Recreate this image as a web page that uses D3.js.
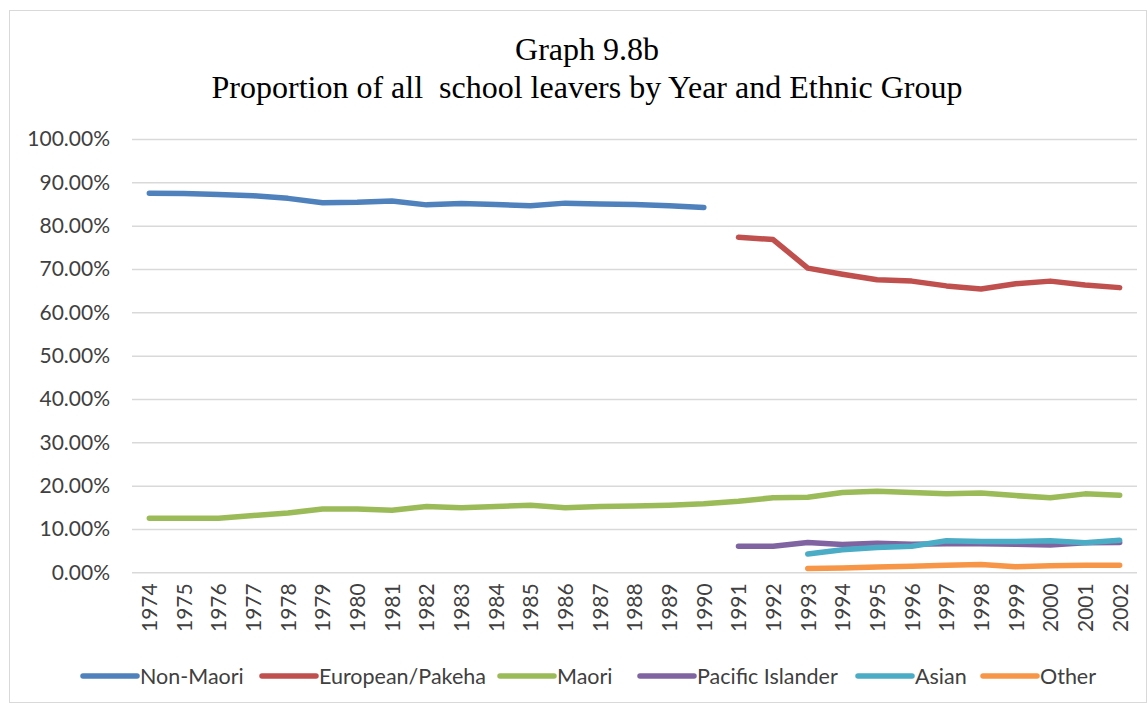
<!DOCTYPE html>
<html><head><meta charset="utf-8">
<script src="https://cdn.jsdelivr.net/npm/d3@7"></script>
<style>body{margin:0;background:#fff}svg{display:block}</style>
</head><body>
<svg id="c" width="1148" height="704"></svg>
<script>
const years = d3.range(1974, 2003).map(String);
const yTicks = [0,0.1,0.2,0.3,0.4,0.5,0.6,0.7,0.8,0.9,1.0];
const seriesNames = ["Non-Maori","European/Pakeha","Maori","Pacific Islander","Asian","Other"];
const seriesColors = ["#4F81BD","#C0504D","#9BBB59","#8064A2","#4BACC6","#F79646"];
// values in % ; null = not present
const nonMaori = [87.5,87.4,87.2,86.9,86.3,85.3,85.4,85.7,84.8,85.1,84.9,84.6,85.2,85.0,84.9,84.6,84.2,
  null,null,null,null,null,null,null,null,null,null,null,null];
const european = [null,null,null,null,null,null,null,null,null,null,null,null,null,null,null,null,null,
  77.3,76.8,70.2,68.8,67.5,67.2,66.1,65.4,66.6,67.2,66.3,65.7];
const maori = [12.5,12.5,12.5,13.1,13.7,14.6,14.6,14.3,15.2,14.9,15.2,15.5,14.9,15.2,15.3,15.5,15.8,
  16.4,17.2,17.3,18.4,18.7,18.4,18.1,18.3,17.7,17.2,18.1,17.8];
const pacific = [null,null,null,null,null,null,null,null,null,null,null,null,null,null,null,null,null,
  6.0,6.0,6.9,6.4,6.7,6.5,6.6,6.6,6.5,6.3,6.8,6.9];
const asian = [null,null,null,null,null,null,null,null,null,null,null,null,null,null,null,null,null,
  null,null,4.2,5.2,5.7,6.0,7.3,7.1,7.1,7.3,6.8,7.4];
const other = [null,null,null,null,null,null,null,null,null,null,null,null,null,null,null,null,null,
  null,null,0.9,1.0,1.2,1.4,1.6,1.8,1.3,1.5,1.6,1.6];
const allSeries = [nonMaori, european, maori, pacific, asian, other];

const svg = d3.select("#c");
svg.append("rect").attr("x",9.5).attr("y",10.5).attr("width",1137).attr("height",692)
  .attr("fill","#fff").attr("stroke","#d9d9d9").attr("stroke-width",1);

const pL = 132, pR = 1137, pT = 139, pB = 572.3;
const x = d3.scalePoint().domain(years).range([pL,pR]).padding(0.5);
const y = d3.scaleLinear().domain([0,1]).range([pB,pT]);
const sans = "Lato,'Open Sans',sans-serif";

// title
const title = svg.append("text").attr("text-anchor","middle")
  .attr("font-family","'Liberation Serif','Times New Roman',serif").attr("font-size",32).attr("fill","#000");
title.append("tspan").attr("x",587).attr("y",60).text("Graph 9.8b");
title.append("tspan").attr("x",587).attr("y",98).attr("xml:space","preserve").text("Proportion of all  school leavers by Year and Ethnic Group");

// grid
const yAxis = d3.axisLeft(y).tickValues(yTicks).tickSize(-(pR-pL)).tickFormat(d=>(d*100).toFixed(2)+"%").tickPadding(22);
const gy = svg.append("g").attr("transform",`translate(${pL},0)`).call(yAxis);
gy.select(".domain").remove();
gy.selectAll(".tick line").attr("stroke","#d9d9d9").attr("stroke-width",1.5);
gy.selectAll(".tick text").attr("font-family",sans).attr("font-size",21).attr("fill","#404040");

const xAxis = d3.axisBottom(x).tickSize(0).tickPadding(0);
const gx = svg.append("g").attr("transform",`translate(0,${pB})`).call(xAxis);
gx.select(".domain").remove();
gx.selectAll(".tick text").attr("font-family",sans).attr("font-size",21).attr("fill","#404040")
  .attr("text-anchor","end").attr("dy","0.35em").attr("transform","translate(0,11) rotate(-90)").attr("x",0).attr("y",0);

// lines
const line = d3.line().defined(d=>d!=null).x((d,i)=>x(years[i])).y(d=>y(d/100));
allSeries.forEach((s,k)=>{
  svg.append("path").datum(s).attr("d",line).attr("fill","none").attr("stroke",seriesColors[k])
    .attr("stroke-width",5.5).attr("stroke-linecap","round").attr("stroke-linejoin","round");
});

// legend
const legendX = [83,262,500,640,858,983];
const lg = svg.append("g");
seriesNames.forEach((n,k)=>{
  lg.append("line").attr("x1",legendX[k]).attr("x2",legendX[k]+54).attr("y1",676).attr("y2",676)
    .attr("stroke",seriesColors[k]).attr("stroke-width",5.5).attr("stroke-linecap","round");
  lg.append("text").attr("x",legendX[k]+57).attr("y",676).attr("dy","0.35em")
    .attr("font-family",sans).attr("font-size",21.5).attr("fill","#404040").text(n);
});
</script>
</body></html>
